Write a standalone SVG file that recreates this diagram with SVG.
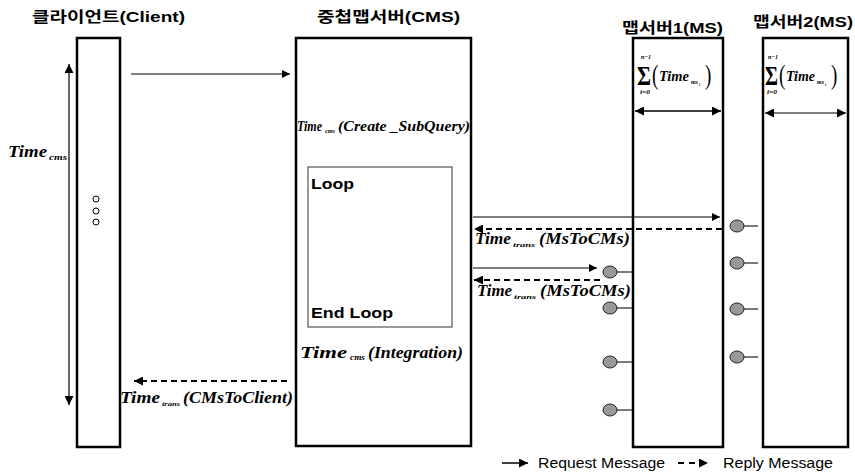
<svg xmlns="http://www.w3.org/2000/svg" width="855" height="473" viewBox="0 0 855 473">
<style>
.hdr{font-family:"Liberation Sans","Noto Sans CJK KR",sans-serif;font-weight:bold;font-size:15px;fill:#000}
.box{fill:#fff;stroke:#000;stroke-width:2.5}
.tm{font-family:"Liberation Serif",serif;font-weight:bold;font-style:italic;fill:#000}
.sy{font-family:"Liberation Serif","DejaVu Serif",serif;fill:#000}
.lbl{font-family:"Liberation Sans",sans-serif;font-weight:bold;font-size:15px;fill:#000}
.leg{font-family:"Liberation Sans",sans-serif;font-size:14px;fill:#000}
.req{stroke:#000;stroke-width:1.2;fill:none}
.rep{stroke:#000;stroke-width:2;stroke-dasharray:6,4;fill:none}
.dot{fill:#999;stroke:#222;stroke-width:1}
.tick{stroke:#222;stroke-width:1.2}
</style>
<defs>
<marker id="ah" viewBox="0 0 10 10" refX="10" refY="5" markerWidth="10" markerHeight="8" markerUnits="userSpaceOnUse" orient="auto"><path d="M0,0L10,5L0,10z" fill="#000"/></marker>
<marker id="ahb" viewBox="0 0 10 10" refX="10" refY="5" markerWidth="12" markerHeight="9" markerUnits="userSpaceOnUse" orient="auto-start-reverse"><path d="M0,0L10,5L0,10z" fill="#000"/></marker>
</defs>

<g id="client">
<text class="hdr" x="32" y="22" textLength="153" lengthAdjust="spacingAndGlyphs">클라이언트(Client)</text>
<rect class="box" x="77" y="38" width="43" height="409"/>
<circle cx="96" cy="199" r="3" fill="none" stroke="#000" stroke-width="1"/>
<circle cx="96" cy="211" r="3" fill="none" stroke="#000" stroke-width="1"/>
<circle cx="96" cy="222" r="3" fill="none" stroke="#000" stroke-width="1"/>
</g>

<g id="cms">
<text class="hdr" x="317" y="22" textLength="143" lengthAdjust="spacingAndGlyphs">중첩맵서버(CMS)</text>
<rect class="box" x="296" y="38" width="175" height="408"/>
<text class="tm" x="297" y="131" font-size="14" textLength="25" lengthAdjust="spacingAndGlyphs">Time</text>
<text class="tm" x="325" y="133" font-size="7" textLength="10" lengthAdjust="spacingAndGlyphs">cms</text>
<text class="tm" x="338" y="131" font-size="14" textLength="132" lengthAdjust="spacingAndGlyphs">(Create _SubQuery)</text>
<text class="tm" x="300" y="358" font-size="17" textLength="47" lengthAdjust="spacingAndGlyphs">Time</text>
<text class="tm" x="350" y="360" font-size="8" textLength="15" lengthAdjust="spacingAndGlyphs">cms</text>
<text class="tm" x="368" y="358" font-size="17" textLength="95" lengthAdjust="spacingAndGlyphs">(Integration)</text>
</g>

<g id="loop">
<rect x="308" y="167" width="144" height="160" fill="none" stroke="#333" stroke-width="1"/>
<text class="lbl" x="311" y="189" textLength="43" lengthAdjust="spacingAndGlyphs">Loop</text>
<text class="lbl" x="311" y="318" textLength="82" lengthAdjust="spacingAndGlyphs">End Loop</text>
</g>

<g id="ms1">
<text class="hdr" x="622" y="33" textLength="101" lengthAdjust="spacingAndGlyphs">맵서버1(MS)</text>
<rect class="box" x="633" y="38" width="90" height="409"/>
<text class="tm" x="641" y="59" font-size="7" textLength="10" lengthAdjust="spacingAndGlyphs">n−1</text>
<text class="sy" x="637" y="85" font-size="28" font-weight="bold" textLength="14" lengthAdjust="spacingAndGlyphs">Σ</text>
<text class="tm" x="640" y="94" font-size="7" textLength="10" lengthAdjust="spacingAndGlyphs">i=0</text>
<text class="sy" transform="translate(652,84) scale(1,1.4)" font-size="19">(</text>
<text class="tm" x="659" y="81" font-size="14" textLength="30" lengthAdjust="spacingAndGlyphs">Time</text>
<text class="tm" x="691" y="84" font-size="6">ms</text>
<text class="tm" x="699" y="86" font-size="4">i</text>
<text class="sy" transform="translate(705,84) scale(1,1.4)" font-size="19">)</text>
<line x1="635" y1="111" x2="721" y2="111" stroke="#000" stroke-width="1.5" marker-start="url(#ahb)" marker-end="url(#ahb)"/>
</g>

<g id="ms2">
<text class="hdr" x="753" y="27" textLength="100" lengthAdjust="spacingAndGlyphs">맵서버2(MS)</text>
<rect class="box" x="763" y="38" width="85" height="409"/>
<text class="tm" x="768" y="59" font-size="7" textLength="10" lengthAdjust="spacingAndGlyphs">n−1</text>
<text class="sy" x="765" y="85" font-size="28" font-weight="bold" textLength="13" lengthAdjust="spacingAndGlyphs">Σ</text>
<text class="tm" x="767" y="94" font-size="7" textLength="10" lengthAdjust="spacingAndGlyphs">i=0</text>
<text class="sy" transform="translate(779,84) scale(1,1.4)" font-size="19">(</text>
<text class="tm" x="786" y="81" font-size="14" textLength="29" lengthAdjust="spacingAndGlyphs">Time</text>
<text class="tm" x="817" y="84" font-size="6">ms</text>
<text class="tm" x="825" y="86" font-size="4">i</text>
<text class="sy" transform="translate(831,84) scale(1,1.4)" font-size="19">)</text>
<line x1="765" y1="113" x2="846" y2="113" stroke="#555" stroke-width="1.5" marker-start="url(#ahb)" marker-end="url(#ahb)"/>
</g>

<g id="connectors">
<line x1="69" y1="405" x2="69" y2="64" class="req" marker-start="url(#ahb)" marker-end="url(#ahb)"/>
<text class="tm" x="8" y="157" font-size="17" textLength="39" lengthAdjust="spacingAndGlyphs">Time</text>
<text class="tm" x="49" y="160" font-size="9" textLength="18" lengthAdjust="spacingAndGlyphs">cms</text>

<line class="req" x1="131" y1="74" x2="290" y2="74" marker-end="url(#ah)"/>

<line class="req" x1="473" y1="217" x2="720" y2="217" marker-end="url(#ah)"/>
<line class="rep" x1="722" y1="229" x2="474" y2="229" marker-end="url(#ahb)"/>
<text class="tm" x="475" y="244" font-size="16" textLength="36" lengthAdjust="spacingAndGlyphs">Time</text>
<text class="tm" x="513" y="247" font-size="7" textLength="22" lengthAdjust="spacingAndGlyphs">trans</text>
<text class="tm" x="539" y="244" font-size="16" textLength="91" lengthAdjust="spacingAndGlyphs">(MsToCMs)</text>

<line class="req" x1="473" y1="268" x2="597" y2="268" marker-end="url(#ah)"/>
<line class="rep" x1="600" y1="280" x2="474" y2="280" marker-end="url(#ahb)"/>
<text class="tm" x="477" y="296" font-size="16" textLength="35" lengthAdjust="spacingAndGlyphs">Time</text>
<text class="tm" x="514" y="299" font-size="7" textLength="22" lengthAdjust="spacingAndGlyphs">trans</text>
<text class="tm" x="540" y="296" font-size="16" textLength="91" lengthAdjust="spacingAndGlyphs">(MsToCMs)</text>

<line class="rep" x1="287" y1="381" x2="134" y2="381" marker-end="url(#ahb)"/>
<text class="tm" x="120" y="403" font-size="16" textLength="40" lengthAdjust="spacingAndGlyphs">Time</text>
<text class="tm" x="162" y="406" font-size="7" textLength="18" lengthAdjust="spacingAndGlyphs">trans</text>
<text class="tm" x="183" y="403" font-size="16" textLength="110" lengthAdjust="spacingAndGlyphs">(CMsToClient)</text>

<line class="tick" x1="610" y1="272" x2="632" y2="272"/>
<line class="tick" x1="610" y1="308" x2="632" y2="308"/>
<line class="tick" x1="610" y1="362" x2="632" y2="362"/>
<line class="tick" x1="610" y1="410" x2="632" y2="410"/>
<ellipse class="dot" cx="610" cy="272" rx="7" ry="6"/>
<ellipse class="dot" cx="610" cy="308" rx="7" ry="6"/>
<ellipse class="dot" cx="610" cy="362" rx="7" ry="6"/>
<ellipse class="dot" cx="610" cy="410" rx="7" ry="6"/>

<line class="tick" x1="737" y1="226" x2="758" y2="226"/>
<line class="tick" x1="737" y1="263" x2="758" y2="263"/>
<line class="tick" x1="737" y1="309" x2="758" y2="309"/>
<line class="tick" x1="737" y1="357" x2="758" y2="357"/>
<ellipse class="dot" cx="737" cy="226" rx="7" ry="6"/>
<ellipse class="dot" cx="737" cy="263" rx="7" ry="6"/>
<ellipse class="dot" cx="737" cy="309" rx="7" ry="6"/>
<ellipse class="dot" cx="737" cy="357" rx="7" ry="6"/>
</g>

<g id="legend">
<line x1="502" y1="463" x2="528" y2="463" stroke="#000" stroke-width="1.5" marker-end="url(#ahb)"/>
<text class="leg" x="538" y="468" textLength="127" lengthAdjust="spacingAndGlyphs">Request Message</text>
<line x1="678" y1="463" x2="708" y2="463" stroke="#000" stroke-width="2" stroke-dasharray="6,5" marker-end="url(#ahb)"/>
<text class="leg" x="723" y="468" textLength="110" lengthAdjust="spacingAndGlyphs">Reply Message</text>
</g>
</svg>
